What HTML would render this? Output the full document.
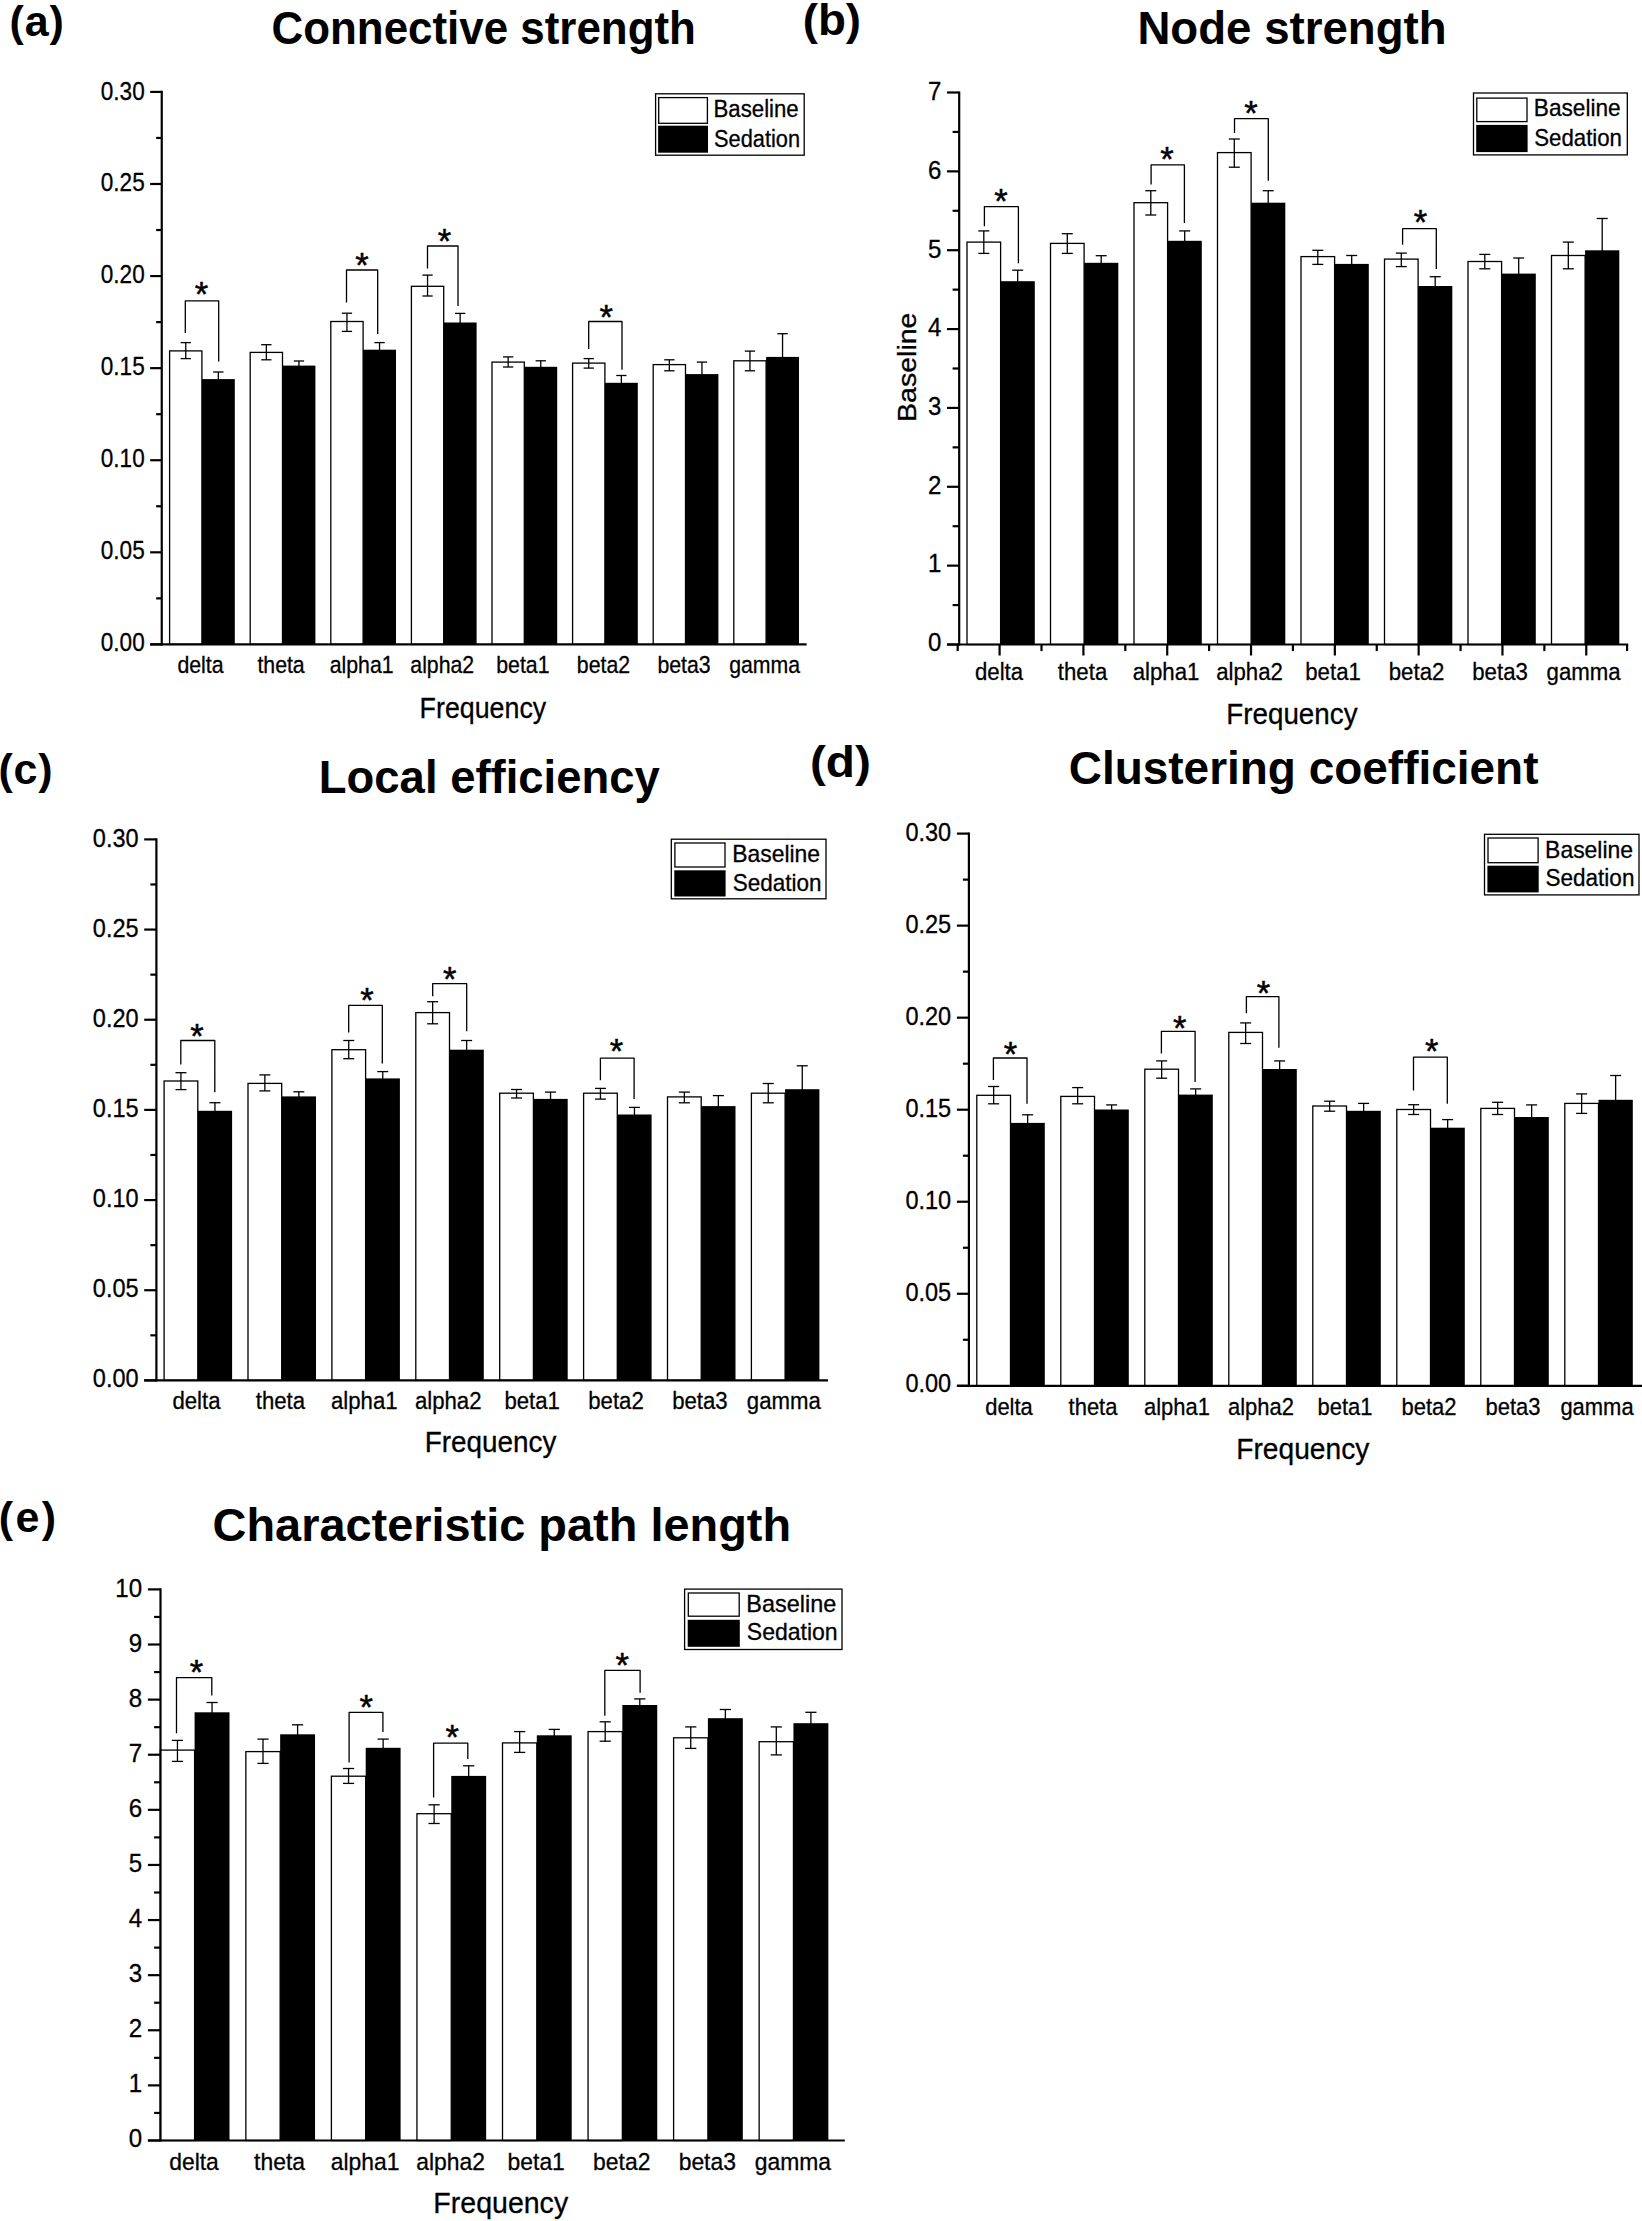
<!DOCTYPE html>
<html lang="en">
<head>
<meta charset="utf-8">
<title>Network measures: baseline vs sedation</title>
<style>
html,body{margin:0;padding:0;background:#fff;}
body{width:1642px;height:2221px;overflow:hidden;}
svg{display:block;}
svg text{font-family:"Liberation Sans", Arial, Helvetica, sans-serif;fill:#000;stroke:#000;stroke-width:0.3px;}
svg text.b{font-weight:bold;stroke:none;}
svg text.st{stroke:#000;stroke-width:0.5;stroke-linejoin:round;}
.ax{stroke:#000;stroke-width:2.2;stroke-linecap:butt;}
.wb{fill:#fff;stroke:#000;stroke-width:1.3;}
.bb{fill:#000;stroke:none;}
.e{stroke:#000;stroke-width:1.3;}
.br{fill:none;stroke:#000;stroke-width:1.3;stroke-linejoin:round;}
.lg{fill:#fff;stroke:#000;stroke-width:1.3;}
</style>
</head>
<body>
<svg width="1642" height="2221" viewBox="0 0 1642 2221">
<rect x="0" y="0" width="1642" height="2221" fill="#fff"/>
<g id="panel-a">
<text x="9.6" y="35.5" font-size="43" class="b" letter-spacing="0.8">(a)</text>
<text transform="translate(271.49 44.4) scale(0.9546 1)" font-size="46" class="b">Connective strength</text>
<rect class="wb" x="169.6" y="350.9" width="32.3" height="293.5"/>
<rect class="bb" x="201.9" y="379.1" width="32.9" height="265.3"/>
<line class="e" x1="185.75" y1="342.6" x2="185.75" y2="358.6"/>
<line class="e" x1="180.6" y1="342.6" x2="190.9" y2="342.6"/>
<line class="e" x1="180.6" y1="358.6" x2="190.9" y2="358.6"/>
<line class="e" x1="218.35" y1="372" x2="218.35" y2="380.1"/>
<line class="e" x1="213.2" y1="372" x2="223.5" y2="372"/>
<rect class="wb" x="250.2" y="352.4" width="32.3" height="292"/>
<rect class="bb" x="282.5" y="365.6" width="32.9" height="278.8"/>
<line class="e" x1="266.35" y1="344.7" x2="266.35" y2="359.8"/>
<line class="e" x1="261.2" y1="344.7" x2="271.5" y2="344.7"/>
<line class="e" x1="261.2" y1="359.8" x2="271.5" y2="359.8"/>
<line class="e" x1="298.95" y1="361" x2="298.95" y2="366.6"/>
<line class="e" x1="293.8" y1="361" x2="304.1" y2="361"/>
<rect class="wb" x="330.8" y="321.5" width="32.3" height="322.9"/>
<rect class="bb" x="363.1" y="349.7" width="32.9" height="294.7"/>
<line class="e" x1="346.95" y1="313.2" x2="346.95" y2="331.4"/>
<line class="e" x1="341.8" y1="313.2" x2="352.1" y2="313.2"/>
<line class="e" x1="341.8" y1="331.4" x2="352.1" y2="331.4"/>
<line class="e" x1="379.55" y1="342.6" x2="379.55" y2="350.7"/>
<line class="e" x1="374.4" y1="342.6" x2="384.7" y2="342.6"/>
<rect class="wb" x="411.4" y="286.3" width="32.3" height="358.1"/>
<rect class="bb" x="443.7" y="322.5" width="32.9" height="321.9"/>
<line class="e" x1="427.55" y1="275.1" x2="427.55" y2="296"/>
<line class="e" x1="422.4" y1="275.1" x2="432.7" y2="275.1"/>
<line class="e" x1="422.4" y1="296" x2="432.7" y2="296"/>
<line class="e" x1="460.15" y1="313.4" x2="460.15" y2="323.5"/>
<line class="e" x1="455" y1="313.4" x2="465.3" y2="313.4"/>
<rect class="wb" x="492" y="362.1" width="32.3" height="282.3"/>
<rect class="bb" x="524.3" y="366.8" width="32.9" height="277.6"/>
<line class="e" x1="508.15" y1="356.9" x2="508.15" y2="367"/>
<line class="e" x1="503" y1="356.9" x2="513.3" y2="356.9"/>
<line class="e" x1="503" y1="367" x2="513.3" y2="367"/>
<line class="e" x1="540.75" y1="360.8" x2="540.75" y2="367.8"/>
<line class="e" x1="535.6" y1="360.8" x2="545.9" y2="360.8"/>
<rect class="wb" x="572.6" y="363.1" width="32.3" height="281.3"/>
<rect class="bb" x="604.9" y="382.8" width="32.9" height="261.6"/>
<line class="e" x1="588.75" y1="358.6" x2="588.75" y2="368.1"/>
<line class="e" x1="583.6" y1="358.6" x2="593.9" y2="358.6"/>
<line class="e" x1="583.6" y1="368.1" x2="593.9" y2="368.1"/>
<line class="e" x1="621.35" y1="375.5" x2="621.35" y2="383.8"/>
<line class="e" x1="616.2" y1="375.5" x2="626.5" y2="375.5"/>
<rect class="wb" x="653.2" y="364.6" width="32.3" height="279.8"/>
<rect class="bb" x="685.5" y="374.1" width="32.9" height="270.3"/>
<line class="e" x1="669.35" y1="359.8" x2="669.35" y2="370.8"/>
<line class="e" x1="664.2" y1="359.8" x2="674.5" y2="359.8"/>
<line class="e" x1="664.2" y1="370.8" x2="674.5" y2="370.8"/>
<line class="e" x1="701.95" y1="362.1" x2="701.95" y2="375.1"/>
<line class="e" x1="696.8" y1="362.1" x2="707.1" y2="362.1"/>
<rect class="wb" x="733.8" y="360.8" width="32.3" height="283.6"/>
<rect class="bb" x="766.1" y="356.9" width="32.9" height="287.5"/>
<line class="e" x1="749.95" y1="351.1" x2="749.95" y2="370.8"/>
<line class="e" x1="744.8" y1="351.1" x2="755.1" y2="351.1"/>
<line class="e" x1="744.8" y1="370.8" x2="755.1" y2="370.8"/>
<line class="e" x1="782.55" y1="333.7" x2="782.55" y2="357.9"/>
<line class="e" x1="777.4" y1="333.7" x2="787.7" y2="333.7"/>
<polyline class="br" points="185.3,332.9 185.3,300.8 218.7,300.8 218.7,361.5"/>
<text x="201.5" y="306.2" font-size="34.5" text-anchor="middle" class="st">*</text>
<polyline class="br" points="346.5,302.4 346.5,270 377.7,270 377.7,334.1"/>
<text x="361.9" y="277.4" font-size="34.5" text-anchor="middle" class="st">*</text>
<polyline class="br" points="427.5,268.5 427.5,246 458,246 458,306"/>
<text x="444.5" y="253" font-size="34.5" text-anchor="middle" class="st">*</text>
<polyline class="br" points="588.7,349 588.7,321.5 622,321.5 622,369.8"/>
<text x="606.1" y="328.7" font-size="34.5" text-anchor="middle" class="st">*</text>
<line class="ax" x1="161.75" y1="90.8" x2="161.75" y2="645.5"/>
<line class="ax" x1="150.1" y1="644.4" x2="806.6" y2="644.4"/>
<line class="ax" x1="150.15" y1="644.4" x2="161.75" y2="644.4"/>
<text transform="translate(144.68 651.03) scale(0.892 1)" font-size="25.3" text-anchor="end">0.00</text>
<line class="ax" x1="156.15" y1="598.36" x2="161.75" y2="598.36"/>
<line class="ax" x1="150.15" y1="552.32" x2="161.75" y2="552.32"/>
<text transform="translate(144.68 559.11) scale(0.892 1)" font-size="25.3" text-anchor="end">0.05</text>
<line class="ax" x1="156.15" y1="506.27" x2="161.75" y2="506.27"/>
<line class="ax" x1="150.15" y1="460.23" x2="161.75" y2="460.23"/>
<text transform="translate(144.68 467.2) scale(0.892 1)" font-size="25.3" text-anchor="end">0.10</text>
<line class="ax" x1="156.15" y1="414.19" x2="161.75" y2="414.19"/>
<line class="ax" x1="150.15" y1="368.15" x2="161.75" y2="368.15"/>
<text transform="translate(144.68 375.28) scale(0.892 1)" font-size="25.3" text-anchor="end">0.15</text>
<line class="ax" x1="156.15" y1="322.11" x2="161.75" y2="322.11"/>
<line class="ax" x1="150.15" y1="276.07" x2="161.75" y2="276.07"/>
<text transform="translate(144.68 283.36) scale(0.892 1)" font-size="25.3" text-anchor="end">0.20</text>
<line class="ax" x1="156.15" y1="230.03" x2="161.75" y2="230.03"/>
<line class="ax" x1="150.15" y1="183.98" x2="161.75" y2="183.98"/>
<text transform="translate(144.68 191.45) scale(0.892 1)" font-size="25.3" text-anchor="end">0.25</text>
<line class="ax" x1="156.15" y1="137.94" x2="161.75" y2="137.94"/>
<line class="ax" x1="150.15" y1="91.9" x2="161.75" y2="91.9"/>
<text transform="translate(144.68 99.53) scale(0.892 1)" font-size="25.3" text-anchor="end">0.30</text>
<text transform="translate(200.45 673.4) scale(0.906 1)" font-size="23.5" text-anchor="middle">delta</text>
<text transform="translate(281.05 673.4) scale(0.906 1)" font-size="23.5" text-anchor="middle">theta</text>
<text transform="translate(361.65 673.4) scale(0.906 1)" font-size="23.5" text-anchor="middle">alpha1</text>
<text transform="translate(442.25 673.4) scale(0.906 1)" font-size="23.5" text-anchor="middle">alpha2</text>
<text transform="translate(522.85 673.4) scale(0.906 1)" font-size="23.5" text-anchor="middle">beta1</text>
<text transform="translate(603.45 673.4) scale(0.906 1)" font-size="23.5" text-anchor="middle">beta2</text>
<text transform="translate(684.05 673.4) scale(0.906 1)" font-size="23.5" text-anchor="middle">beta3</text>
<text transform="translate(764.65 673.4) scale(0.906 1)" font-size="23.5" text-anchor="middle">gamma</text>
<text transform="translate(419.61 717.9) scale(0.8967 1)" font-size="29.9">Frequency</text>
<rect class="lg" x="655.6" y="93.8" width="148.6" height="61.4"/>
<rect class="lg" x="658.7" y="97.6" width="48.7" height="25.7"/>
<rect class="bb" x="658.1" y="125.7" width="49.9" height="27"/>
<text transform="translate(713.57 117.4) scale(0.9492 1)" font-size="23.4">Baseline</text>
<text transform="translate(713.97 146.8) scale(0.9321 1)" font-size="23.4">Sedation</text>
</g>
<g id="panel-b">
<text transform="translate(802.77 34.5) scale(1.0381 1)" font-size="44" class="b">(b)</text>
<text transform="translate(1137.38 44.1) scale(0.9922 1)" font-size="46" class="b">Node strength</text>
<rect class="wb" x="967" y="242.1" width="33.6" height="402.4"/>
<rect class="bb" x="1000.6" y="281.2" width="34.2" height="363.3"/>
<line class="e" x1="983.8" y1="230.9" x2="983.8" y2="253.4"/>
<line class="e" x1="978.3" y1="230.9" x2="989.3" y2="230.9"/>
<line class="e" x1="978.3" y1="253.4" x2="989.3" y2="253.4"/>
<line class="e" x1="1017.7" y1="270.2" x2="1017.7" y2="282.2"/>
<line class="e" x1="1012.2" y1="270.2" x2="1023.2" y2="270.2"/>
<rect class="wb" x="1050.5" y="243.4" width="33.6" height="401.1"/>
<rect class="bb" x="1084.1" y="262.8" width="34.2" height="381.7"/>
<line class="e" x1="1067.3" y1="233.7" x2="1067.3" y2="253.4"/>
<line class="e" x1="1061.8" y1="233.7" x2="1072.8" y2="233.7"/>
<line class="e" x1="1061.8" y1="253.4" x2="1072.8" y2="253.4"/>
<line class="e" x1="1101.2" y1="255.7" x2="1101.2" y2="263.8"/>
<line class="e" x1="1095.7" y1="255.7" x2="1106.7" y2="255.7"/>
<rect class="wb" x="1134" y="202.7" width="33.6" height="441.8"/>
<rect class="bb" x="1167.6" y="240.8" width="34.2" height="403.7"/>
<line class="e" x1="1150.8" y1="190.7" x2="1150.8" y2="215"/>
<line class="e" x1="1145.3" y1="190.7" x2="1156.3" y2="190.7"/>
<line class="e" x1="1145.3" y1="215" x2="1156.3" y2="215"/>
<line class="e" x1="1184.7" y1="230.9" x2="1184.7" y2="241.8"/>
<line class="e" x1="1179.2" y1="230.9" x2="1190.2" y2="230.9"/>
<rect class="wb" x="1217.5" y="152.6" width="33.6" height="491.9"/>
<rect class="bb" x="1251.1" y="202.7" width="34.2" height="441.8"/>
<line class="e" x1="1234.3" y1="139" x2="1234.3" y2="167.2"/>
<line class="e" x1="1228.8" y1="139" x2="1239.8" y2="139"/>
<line class="e" x1="1228.8" y1="167.2" x2="1239.8" y2="167.2"/>
<line class="e" x1="1268.2" y1="190.7" x2="1268.2" y2="203.7"/>
<line class="e" x1="1262.7" y1="190.7" x2="1273.7" y2="190.7"/>
<rect class="wb" x="1301" y="256.6" width="33.6" height="387.9"/>
<rect class="bb" x="1334.6" y="263.9" width="34.2" height="380.6"/>
<line class="e" x1="1317.8" y1="250.3" x2="1317.8" y2="264.4"/>
<line class="e" x1="1312.3" y1="250.3" x2="1323.3" y2="250.3"/>
<line class="e" x1="1312.3" y1="264.4" x2="1323.3" y2="264.4"/>
<line class="e" x1="1351.7" y1="255.5" x2="1351.7" y2="264.9"/>
<line class="e" x1="1346.2" y1="255.5" x2="1357.2" y2="255.5"/>
<rect class="wb" x="1384.5" y="259.1" width="33.6" height="385.4"/>
<rect class="bb" x="1418.1" y="286" width="34.2" height="358.5"/>
<line class="e" x1="1401.3" y1="253.1" x2="1401.3" y2="266.6"/>
<line class="e" x1="1395.8" y1="253.1" x2="1406.8" y2="253.1"/>
<line class="e" x1="1395.8" y1="266.6" x2="1406.8" y2="266.6"/>
<line class="e" x1="1435.2" y1="276.7" x2="1435.2" y2="287"/>
<line class="e" x1="1429.7" y1="276.7" x2="1440.7" y2="276.7"/>
<rect class="wb" x="1468" y="261.5" width="33.6" height="383"/>
<rect class="bb" x="1501.6" y="273.6" width="34.2" height="370.9"/>
<line class="e" x1="1484.8" y1="254.4" x2="1484.8" y2="268.8"/>
<line class="e" x1="1479.3" y1="254.4" x2="1490.3" y2="254.4"/>
<line class="e" x1="1479.3" y1="268.8" x2="1490.3" y2="268.8"/>
<line class="e" x1="1518.7" y1="258" x2="1518.7" y2="274.6"/>
<line class="e" x1="1513.2" y1="258" x2="1524.2" y2="258"/>
<rect class="wb" x="1551.5" y="255.5" width="33.6" height="389"/>
<rect class="bb" x="1585.1" y="250.3" width="34.2" height="394.2"/>
<line class="e" x1="1568.3" y1="242.1" x2="1568.3" y2="268.8"/>
<line class="e" x1="1562.8" y1="242.1" x2="1573.8" y2="242.1"/>
<line class="e" x1="1562.8" y1="268.8" x2="1573.8" y2="268.8"/>
<line class="e" x1="1602.2" y1="218.5" x2="1602.2" y2="251.3"/>
<line class="e" x1="1596.7" y1="218.5" x2="1607.7" y2="218.5"/>
<polyline class="br" points="984.4,226.3 984.4,206.6 1018.4,206.6 1018.4,263.3"/>
<text x="1001" y="212.8" font-size="34.5" text-anchor="middle" class="st">*</text>
<polyline class="br" points="1151.1,184.6 1151.1,164.9 1184.4,164.9 1184.4,222.9"/>
<text x="1167" y="171.1" font-size="34.5" text-anchor="middle" class="st">*</text>
<polyline class="br" points="1234.5,132.9 1234.5,118.6 1268.3,118.6 1268.3,180.7"/>
<text x="1250.9" y="125.1" font-size="34.5" text-anchor="middle" class="st">*</text>
<polyline class="br" points="1402.6,244.7 1402.6,228.7 1436.3,228.7 1436.3,269"/>
<text x="1420.4" y="233.5" font-size="34.5" text-anchor="middle" class="st">*</text>
<line class="ax" x1="959.2" y1="91.4" x2="959.2" y2="645.6"/>
<line class="ax" x1="947" y1="644.5" x2="1628.2" y2="644.5"/>
<line class="ax" x1="947" y1="644.5" x2="959.2" y2="644.5"/>
<text transform="translate(941.34 651.13) scale(0.95 1)" font-size="25.3" text-anchor="end">0</text>
<line class="ax" x1="952.6" y1="605.07" x2="959.2" y2="605.07"/>
<line class="ax" x1="947" y1="565.64" x2="959.2" y2="565.64"/>
<text transform="translate(941.34 572.41) scale(0.95 1)" font-size="25.3" text-anchor="end">1</text>
<line class="ax" x1="952.6" y1="526.21" x2="959.2" y2="526.21"/>
<line class="ax" x1="947" y1="486.79" x2="959.2" y2="486.79"/>
<text transform="translate(941.34 493.7) scale(0.95 1)" font-size="25.3" text-anchor="end">2</text>
<line class="ax" x1="952.6" y1="447.36" x2="959.2" y2="447.36"/>
<line class="ax" x1="947" y1="407.93" x2="959.2" y2="407.93"/>
<text transform="translate(941.34 414.99) scale(0.95 1)" font-size="25.3" text-anchor="end">3</text>
<line class="ax" x1="952.6" y1="368.5" x2="959.2" y2="368.5"/>
<line class="ax" x1="947" y1="329.07" x2="959.2" y2="329.07"/>
<text transform="translate(941.34 336.27) scale(0.95 1)" font-size="25.3" text-anchor="end">4</text>
<line class="ax" x1="952.6" y1="289.64" x2="959.2" y2="289.64"/>
<line class="ax" x1="947" y1="250.21" x2="959.2" y2="250.21"/>
<text transform="translate(941.34 257.56) scale(0.95 1)" font-size="25.3" text-anchor="end">5</text>
<line class="ax" x1="952.6" y1="210.79" x2="959.2" y2="210.79"/>
<line class="ax" x1="947" y1="171.36" x2="959.2" y2="171.36"/>
<text transform="translate(941.34 178.84) scale(0.95 1)" font-size="25.3" text-anchor="end">6</text>
<line class="ax" x1="952.6" y1="131.93" x2="959.2" y2="131.93"/>
<line class="ax" x1="947" y1="92.5" x2="959.2" y2="92.5"/>
<text transform="translate(941.34 100.13) scale(0.95 1)" font-size="25.3" text-anchor="end">7</text>
<line class="ax" x1="999.6" y1="644.5" x2="999.6" y2="655.5"/>
<line class="ax" x1="1083.41" y1="644.5" x2="1083.41" y2="655.5"/>
<line class="ax" x1="1167.22" y1="644.5" x2="1167.22" y2="655.5"/>
<line class="ax" x1="1251.03" y1="644.5" x2="1251.03" y2="655.5"/>
<line class="ax" x1="1334.84" y1="644.5" x2="1334.84" y2="655.5"/>
<line class="ax" x1="1418.65" y1="644.5" x2="1418.65" y2="655.5"/>
<line class="ax" x1="1502.46" y1="644.5" x2="1502.46" y2="655.5"/>
<line class="ax" x1="1586.27" y1="644.5" x2="1586.27" y2="655.5"/>
<line class="ax" x1="957.7" y1="644.5" x2="957.7" y2="651.1"/>
<line class="ax" x1="1041.51" y1="644.5" x2="1041.51" y2="651.1"/>
<line class="ax" x1="1125.32" y1="644.5" x2="1125.32" y2="651.1"/>
<line class="ax" x1="1209.12" y1="644.5" x2="1209.12" y2="651.1"/>
<line class="ax" x1="1292.93" y1="644.5" x2="1292.93" y2="651.1"/>
<line class="ax" x1="1376.75" y1="644.5" x2="1376.75" y2="651.1"/>
<line class="ax" x1="1460.56" y1="644.5" x2="1460.56" y2="651.1"/>
<line class="ax" x1="1544.37" y1="644.5" x2="1544.37" y2="651.1"/>
<line class="ax" x1="1627.1" y1="644.5" x2="1627.1" y2="651.1"/>
<text transform="translate(999.05 679.5) scale(0.945 1)" font-size="23.5" text-anchor="middle">delta</text>
<text transform="translate(1082.55 679.5) scale(0.945 1)" font-size="23.5" text-anchor="middle">theta</text>
<text transform="translate(1166.05 679.5) scale(0.945 1)" font-size="23.5" text-anchor="middle">alpha1</text>
<text transform="translate(1249.55 679.5) scale(0.945 1)" font-size="23.5" text-anchor="middle">alpha2</text>
<text transform="translate(1333.05 679.5) scale(0.945 1)" font-size="23.5" text-anchor="middle">beta1</text>
<text transform="translate(1416.55 679.5) scale(0.945 1)" font-size="23.5" text-anchor="middle">beta2</text>
<text transform="translate(1500.05 679.5) scale(0.945 1)" font-size="23.5" text-anchor="middle">beta3</text>
<text transform="translate(1583.55 679.5) scale(0.945 1)" font-size="23.5" text-anchor="middle">gamma</text>
<text transform="translate(1226.33 724.1) scale(0.9291 1)" font-size="29.9">Frequency</text>
<text transform="translate(915.9 422) rotate(-90) scale(1.09 1)" font-size="26.2">Baseline</text>
<rect class="lg" x="1473.5" y="93" width="153.8" height="61.9"/>
<rect class="lg" x="1476.8" y="98.1" width="50.2" height="23.5"/>
<rect class="bb" x="1476.2" y="124.9" width="51.4" height="27.2"/>
<text transform="translate(1533.84 116.3) scale(0.9676 1)" font-size="23.4">Baseline</text>
<text transform="translate(1534.25 146.1) scale(0.9502 1)" font-size="23.4">Sedation</text>
</g>
<g id="panel-c">
<text x="-1.45" y="784.2" font-size="43" class="b" letter-spacing="0.7">(c)</text>
<text transform="translate(318.79 792.5) scale(0.9886 1)" font-size="46" class="b">Local efficiency</text>
<rect class="wb" x="164.1" y="1081" width="33.7" height="299.4"/>
<rect class="bb" x="197.8" y="1110.8" width="34.3" height="269.6"/>
<line class="e" x1="180.95" y1="1072.7" x2="180.95" y2="1089.6"/>
<line class="e" x1="175.45" y1="1072.7" x2="186.45" y2="1072.7"/>
<line class="e" x1="175.45" y1="1089.6" x2="186.45" y2="1089.6"/>
<line class="e" x1="214.95" y1="1102.7" x2="214.95" y2="1111.8"/>
<line class="e" x1="209.45" y1="1102.7" x2="220.45" y2="1102.7"/>
<rect class="wb" x="248" y="1083.4" width="33.7" height="297"/>
<rect class="bb" x="281.7" y="1096.4" width="34.3" height="284"/>
<line class="e" x1="264.85" y1="1074.9" x2="264.85" y2="1090.9"/>
<line class="e" x1="259.35" y1="1074.9" x2="270.35" y2="1074.9"/>
<line class="e" x1="259.35" y1="1090.9" x2="270.35" y2="1090.9"/>
<line class="e" x1="298.85" y1="1091.8" x2="298.85" y2="1097.4"/>
<line class="e" x1="293.35" y1="1091.8" x2="304.35" y2="1091.8"/>
<rect class="wb" x="331.9" y="1049.7" width="33.7" height="330.7"/>
<rect class="bb" x="365.6" y="1078.4" width="34.3" height="302"/>
<line class="e" x1="348.75" y1="1040.5" x2="348.75" y2="1058.7"/>
<line class="e" x1="343.25" y1="1040.5" x2="354.25" y2="1040.5"/>
<line class="e" x1="343.25" y1="1058.7" x2="354.25" y2="1058.7"/>
<line class="e" x1="382.75" y1="1071.6" x2="382.75" y2="1079.4"/>
<line class="e" x1="377.25" y1="1071.6" x2="388.25" y2="1071.6"/>
<rect class="wb" x="415.8" y="1012.6" width="33.7" height="367.8"/>
<rect class="bb" x="449.5" y="1049.7" width="34.3" height="330.7"/>
<line class="e" x1="432.65" y1="1001.7" x2="432.65" y2="1023.8"/>
<line class="e" x1="427.15" y1="1001.7" x2="438.15" y2="1001.7"/>
<line class="e" x1="427.15" y1="1023.8" x2="438.15" y2="1023.8"/>
<line class="e" x1="466.65" y1="1040.5" x2="466.65" y2="1050.7"/>
<line class="e" x1="461.15" y1="1040.5" x2="472.15" y2="1040.5"/>
<rect class="wb" x="499.7" y="1093.2" width="33.7" height="287.2"/>
<rect class="bb" x="533.4" y="1098.9" width="34.3" height="281.5"/>
<line class="e" x1="516.55" y1="1089.5" x2="516.55" y2="1098"/>
<line class="e" x1="511.05" y1="1089.5" x2="522.05" y2="1089.5"/>
<line class="e" x1="511.05" y1="1098" x2="522.05" y2="1098"/>
<line class="e" x1="550.55" y1="1092.1" x2="550.55" y2="1099.9"/>
<line class="e" x1="545.05" y1="1092.1" x2="556.05" y2="1092.1"/>
<rect class="wb" x="583.6" y="1093.2" width="33.7" height="287.2"/>
<rect class="bb" x="617.3" y="1114.5" width="34.3" height="265.9"/>
<line class="e" x1="600.45" y1="1088.4" x2="600.45" y2="1099.1"/>
<line class="e" x1="594.95" y1="1088.4" x2="605.95" y2="1088.4"/>
<line class="e" x1="594.95" y1="1099.1" x2="605.95" y2="1099.1"/>
<line class="e" x1="634.45" y1="1107.4" x2="634.45" y2="1115.5"/>
<line class="e" x1="628.95" y1="1107.4" x2="639.95" y2="1107.4"/>
<rect class="wb" x="667.5" y="1096.9" width="33.7" height="283.5"/>
<rect class="bb" x="701.2" y="1106.1" width="34.3" height="274.3"/>
<line class="e" x1="684.35" y1="1092.1" x2="684.35" y2="1102.8"/>
<line class="e" x1="678.85" y1="1092.1" x2="689.85" y2="1092.1"/>
<line class="e" x1="678.85" y1="1102.8" x2="689.85" y2="1102.8"/>
<line class="e" x1="718.35" y1="1095.6" x2="718.35" y2="1107.1"/>
<line class="e" x1="712.85" y1="1095.6" x2="723.85" y2="1095.6"/>
<rect class="wb" x="751.4" y="1093.2" width="33.7" height="287.2"/>
<rect class="bb" x="785.1" y="1089.2" width="34.3" height="291.2"/>
<line class="e" x1="768.25" y1="1083.5" x2="768.25" y2="1102.8"/>
<line class="e" x1="762.75" y1="1083.5" x2="773.75" y2="1083.5"/>
<line class="e" x1="762.75" y1="1102.8" x2="773.75" y2="1102.8"/>
<line class="e" x1="802.25" y1="1065.8" x2="802.25" y2="1090.2"/>
<line class="e" x1="796.75" y1="1065.8" x2="807.75" y2="1065.8"/>
<polyline class="br" points="180.8,1064.6 180.8,1040.5 214.8,1040.5 214.8,1092.2"/>
<text x="197" y="1047.8" font-size="34.5" text-anchor="middle" class="st">*</text>
<polyline class="br" points="348.7,1032.4 348.7,1005.4 382.3,1005.4 382.3,1063.5"/>
<text x="366.9" y="1011.6" font-size="34.5" text-anchor="middle" class="st">*</text>
<polyline class="br" points="432.7,996.2 432.7,983.7 466.7,983.7 466.7,1031.3"/>
<text x="449.6" y="991.4" font-size="34.5" text-anchor="middle" class="st">*</text>
<polyline class="br" points="600.4,1080.3 600.4,1058.1 634.1,1058.1 634.1,1099.1"/>
<text x="616.4" y="1063.4" font-size="34.5" text-anchor="middle" class="st">*</text>
<line class="ax" x1="156.4" y1="838.3" x2="156.4" y2="1381.5"/>
<line class="ax" x1="144.2" y1="1380.4" x2="828" y2="1380.4"/>
<line class="ax" x1="144.2" y1="1380.4" x2="156.4" y2="1380.4"/>
<text transform="translate(138.62 1387.03) scale(0.93 1)" font-size="25.3" text-anchor="end">0.00</text>
<line class="ax" x1="150.4" y1="1335.32" x2="156.4" y2="1335.32"/>
<line class="ax" x1="144.2" y1="1290.23" x2="156.4" y2="1290.23"/>
<text transform="translate(138.62 1297.03) scale(0.93 1)" font-size="25.3" text-anchor="end">0.05</text>
<line class="ax" x1="150.4" y1="1245.15" x2="156.4" y2="1245.15"/>
<line class="ax" x1="144.2" y1="1200.07" x2="156.4" y2="1200.07"/>
<text transform="translate(138.62 1207.03) scale(0.93 1)" font-size="25.3" text-anchor="end">0.10</text>
<line class="ax" x1="150.4" y1="1154.98" x2="156.4" y2="1154.98"/>
<line class="ax" x1="144.2" y1="1109.9" x2="156.4" y2="1109.9"/>
<text transform="translate(138.62 1117.03) scale(0.93 1)" font-size="25.3" text-anchor="end">0.15</text>
<line class="ax" x1="150.4" y1="1064.82" x2="156.4" y2="1064.82"/>
<line class="ax" x1="144.2" y1="1019.73" x2="156.4" y2="1019.73"/>
<text transform="translate(138.62 1027.03) scale(0.93 1)" font-size="25.3" text-anchor="end">0.20</text>
<line class="ax" x1="150.4" y1="974.65" x2="156.4" y2="974.65"/>
<line class="ax" x1="144.2" y1="929.57" x2="156.4" y2="929.57"/>
<text transform="translate(138.62 937.03) scale(0.93 1)" font-size="25.3" text-anchor="end">0.25</text>
<line class="ax" x1="150.4" y1="884.48" x2="156.4" y2="884.48"/>
<line class="ax" x1="144.2" y1="839.4" x2="156.4" y2="839.4"/>
<text transform="translate(138.62 847.03) scale(0.93 1)" font-size="25.3" text-anchor="end">0.30</text>
<text transform="translate(196.5 1408.5) scale(0.943 1)" font-size="23.5" text-anchor="middle">delta</text>
<text transform="translate(280.4 1408.5) scale(0.943 1)" font-size="23.5" text-anchor="middle">theta</text>
<text transform="translate(364.3 1408.5) scale(0.943 1)" font-size="23.5" text-anchor="middle">alpha1</text>
<text transform="translate(448.2 1408.5) scale(0.943 1)" font-size="23.5" text-anchor="middle">alpha2</text>
<text transform="translate(532.1 1408.5) scale(0.943 1)" font-size="23.5" text-anchor="middle">beta1</text>
<text transform="translate(616 1408.5) scale(0.943 1)" font-size="23.5" text-anchor="middle">beta2</text>
<text transform="translate(699.9 1408.5) scale(0.943 1)" font-size="23.5" text-anchor="middle">beta3</text>
<text transform="translate(783.8 1408.5) scale(0.943 1)" font-size="23.5" text-anchor="middle">gamma</text>
<text transform="translate(424.72 1452.2) scale(0.9327 1)" font-size="29.9">Frequency</text>
<rect class="lg" x="671.3" y="839.2" width="154.7" height="59.6"/>
<rect class="lg" x="674.9" y="843" width="50.1" height="24"/>
<rect class="bb" x="674.3" y="870.3" width="51.3" height="26.2"/>
<text transform="translate(732.22 862.4) scale(0.9791 1)" font-size="23.4">Baseline</text>
<text transform="translate(732.64 890.8) scale(0.9615 1)" font-size="23.4">Sedation</text>
</g>
<g id="panel-d">
<text transform="translate(809.96 777.3) scale(1.0863 1)" font-size="44" class="b">(d)</text>
<text transform="translate(1068.71 783.8) scale(0.9991 1)" font-size="46" class="b">Clustering coefficient</text>
<rect class="wb" x="976.8" y="1095.3" width="33.7" height="290.5"/>
<rect class="bb" x="1010.5" y="1122.9" width="34.3" height="262.9"/>
<line class="e" x1="993.65" y1="1086.5" x2="993.65" y2="1103.8"/>
<line class="e" x1="988.15" y1="1086.5" x2="999.15" y2="1086.5"/>
<line class="e" x1="988.15" y1="1103.8" x2="999.15" y2="1103.8"/>
<line class="e" x1="1027.65" y1="1114.8" x2="1027.65" y2="1123.9"/>
<line class="e" x1="1022.15" y1="1114.8" x2="1033.15" y2="1114.8"/>
<rect class="wb" x="1060.8" y="1096.4" width="33.7" height="289.4"/>
<rect class="bb" x="1094.5" y="1109.5" width="34.3" height="276.3"/>
<line class="e" x1="1077.65" y1="1087.6" x2="1077.65" y2="1103.8"/>
<line class="e" x1="1072.15" y1="1087.6" x2="1083.15" y2="1087.6"/>
<line class="e" x1="1072.15" y1="1103.8" x2="1083.15" y2="1103.8"/>
<line class="e" x1="1111.65" y1="1104.9" x2="1111.65" y2="1110.5"/>
<line class="e" x1="1106.15" y1="1104.9" x2="1117.15" y2="1104.9"/>
<rect class="wb" x="1144.8" y="1069.2" width="33.7" height="316.6"/>
<rect class="bb" x="1178.5" y="1094.6" width="34.3" height="291.2"/>
<line class="e" x1="1161.65" y1="1060.9" x2="1161.65" y2="1078.2"/>
<line class="e" x1="1156.15" y1="1060.9" x2="1167.15" y2="1060.9"/>
<line class="e" x1="1156.15" y1="1078.2" x2="1167.15" y2="1078.2"/>
<line class="e" x1="1195.65" y1="1088.9" x2="1195.65" y2="1095.6"/>
<line class="e" x1="1190.15" y1="1088.9" x2="1201.15" y2="1088.9"/>
<rect class="wb" x="1228.8" y="1032.4" width="33.7" height="353.4"/>
<rect class="bb" x="1262.5" y="1069" width="34.3" height="316.8"/>
<line class="e" x1="1245.65" y1="1022.9" x2="1245.65" y2="1043.5"/>
<line class="e" x1="1240.15" y1="1022.9" x2="1251.15" y2="1022.9"/>
<line class="e" x1="1240.15" y1="1043.5" x2="1251.15" y2="1043.5"/>
<line class="e" x1="1279.65" y1="1060.9" x2="1279.65" y2="1070"/>
<line class="e" x1="1274.15" y1="1060.9" x2="1285.15" y2="1060.9"/>
<rect class="wb" x="1312.8" y="1106" width="33.7" height="279.8"/>
<rect class="bb" x="1346.5" y="1110.8" width="34.3" height="275"/>
<line class="e" x1="1329.65" y1="1101.2" x2="1329.65" y2="1111.2"/>
<line class="e" x1="1324.15" y1="1101.2" x2="1335.15" y2="1101.2"/>
<line class="e" x1="1324.15" y1="1111.2" x2="1335.15" y2="1111.2"/>
<line class="e" x1="1363.65" y1="1103.4" x2="1363.65" y2="1111.8"/>
<line class="e" x1="1358.15" y1="1103.4" x2="1369.15" y2="1103.4"/>
<rect class="wb" x="1396.8" y="1109.5" width="33.7" height="276.3"/>
<rect class="bb" x="1430.5" y="1127.7" width="34.3" height="258.1"/>
<line class="e" x1="1413.65" y1="1104.7" x2="1413.65" y2="1114.5"/>
<line class="e" x1="1408.15" y1="1104.7" x2="1419.15" y2="1104.7"/>
<line class="e" x1="1408.15" y1="1114.5" x2="1419.15" y2="1114.5"/>
<line class="e" x1="1447.65" y1="1119.6" x2="1447.65" y2="1128.7"/>
<line class="e" x1="1442.15" y1="1119.6" x2="1453.15" y2="1119.6"/>
<rect class="wb" x="1480.8" y="1108.4" width="33.7" height="277.4"/>
<rect class="bb" x="1514.5" y="1117" width="34.3" height="268.8"/>
<line class="e" x1="1497.65" y1="1102.3" x2="1497.65" y2="1114.5"/>
<line class="e" x1="1492.15" y1="1102.3" x2="1503.15" y2="1102.3"/>
<line class="e" x1="1492.15" y1="1114.5" x2="1503.15" y2="1114.5"/>
<line class="e" x1="1531.65" y1="1104.9" x2="1531.65" y2="1118"/>
<line class="e" x1="1526.15" y1="1104.9" x2="1537.15" y2="1104.9"/>
<rect class="wb" x="1564.8" y="1103.4" width="33.7" height="282.4"/>
<rect class="bb" x="1598.5" y="1099.8" width="34.3" height="286"/>
<line class="e" x1="1581.65" y1="1093.9" x2="1581.65" y2="1113.4"/>
<line class="e" x1="1576.15" y1="1093.9" x2="1587.15" y2="1093.9"/>
<line class="e" x1="1576.15" y1="1113.4" x2="1587.15" y2="1113.4"/>
<line class="e" x1="1615.65" y1="1075.5" x2="1615.65" y2="1100.8"/>
<line class="e" x1="1610.15" y1="1075.5" x2="1621.15" y2="1075.5"/>
<polyline class="br" points="993.4,1080.1 993.4,1058 1027,1058 1027,1103.8"/>
<text x="1010.5" y="1066.4" font-size="34.5" text-anchor="middle" class="st">*</text>
<polyline class="br" points="1161.4,1053.6 1161.4,1031.3 1195.1,1031.3 1195.1,1081.9"/>
<text x="1179.6" y="1040.1" font-size="34.5" text-anchor="middle" class="st">*</text>
<polyline class="br" points="1246.4,1013.3 1246.4,996.6 1278.9,996.6 1278.9,1047.7"/>
<text x="1263.5" y="1005" font-size="34.5" text-anchor="middle" class="st">*</text>
<polyline class="br" points="1413.5,1090.6 1413.5,1057.1 1447.3,1057.1 1447.3,1103.8"/>
<text x="1431.7" y="1062.9" font-size="34.5" text-anchor="middle" class="st">*</text>
<line class="ax" x1="968.9" y1="832.5" x2="968.9" y2="1386.9"/>
<line class="ax" x1="956.9" y1="1385.8" x2="1642" y2="1385.8"/>
<line class="ax" x1="956.9" y1="1385.8" x2="968.9" y2="1385.8"/>
<text transform="translate(951.22 1392.43) scale(0.93 1)" font-size="25.3" text-anchor="end">0.00</text>
<line class="ax" x1="962.9" y1="1339.78" x2="968.9" y2="1339.78"/>
<line class="ax" x1="956.9" y1="1293.77" x2="968.9" y2="1293.77"/>
<text transform="translate(951.22 1300.56) scale(0.93 1)" font-size="25.3" text-anchor="end">0.05</text>
<line class="ax" x1="962.9" y1="1247.75" x2="968.9" y2="1247.75"/>
<line class="ax" x1="956.9" y1="1201.73" x2="968.9" y2="1201.73"/>
<text transform="translate(951.22 1208.7) scale(0.93 1)" font-size="25.3" text-anchor="end">0.10</text>
<line class="ax" x1="962.9" y1="1155.72" x2="968.9" y2="1155.72"/>
<line class="ax" x1="956.9" y1="1109.7" x2="968.9" y2="1109.7"/>
<text transform="translate(951.22 1116.83) scale(0.93 1)" font-size="25.3" text-anchor="end">0.15</text>
<line class="ax" x1="962.9" y1="1063.68" x2="968.9" y2="1063.68"/>
<line class="ax" x1="956.9" y1="1017.67" x2="968.9" y2="1017.67"/>
<text transform="translate(951.22 1024.96) scale(0.93 1)" font-size="25.3" text-anchor="end">0.20</text>
<line class="ax" x1="962.9" y1="971.65" x2="968.9" y2="971.65"/>
<line class="ax" x1="956.9" y1="925.63" x2="968.9" y2="925.63"/>
<text transform="translate(951.22 933.1) scale(0.93 1)" font-size="25.3" text-anchor="end">0.25</text>
<line class="ax" x1="962.9" y1="879.62" x2="968.9" y2="879.62"/>
<line class="ax" x1="956.9" y1="833.6" x2="968.9" y2="833.6"/>
<text transform="translate(951.22 841.23) scale(0.93 1)" font-size="25.3" text-anchor="end">0.30</text>
<text transform="translate(1009 1415.2) scale(0.935 1)" font-size="23.5" text-anchor="middle">delta</text>
<text transform="translate(1093 1415.2) scale(0.935 1)" font-size="23.5" text-anchor="middle">theta</text>
<text transform="translate(1177 1415.2) scale(0.935 1)" font-size="23.5" text-anchor="middle">alpha1</text>
<text transform="translate(1261 1415.2) scale(0.935 1)" font-size="23.5" text-anchor="middle">alpha2</text>
<text transform="translate(1345 1415.2) scale(0.935 1)" font-size="23.5" text-anchor="middle">beta1</text>
<text transform="translate(1429 1415.2) scale(0.935 1)" font-size="23.5" text-anchor="middle">beta2</text>
<text transform="translate(1513 1415.2) scale(0.935 1)" font-size="23.5" text-anchor="middle">beta3</text>
<text transform="translate(1597 1415.2) scale(0.935 1)" font-size="23.5" text-anchor="middle">gamma</text>
<text transform="translate(1236.3 1459.3) scale(0.9421 1)" font-size="29.9">Frequency</text>
<rect class="lg" x="1484.5" y="834.3" width="154.5" height="60.6"/>
<rect class="lg" x="1488" y="838" width="50.1" height="24.7"/>
<rect class="bb" x="1487.4" y="865.7" width="51.3" height="26.7"/>
<text transform="translate(1545.11 858.1) scale(0.9803 1)" font-size="23.4">Baseline</text>
<text transform="translate(1545.54 885.9) scale(0.9626 1)" font-size="23.4">Sedation</text>
</g>
<g id="panel-e">
<text x="-1.25" y="1531.8" font-size="43" class="b" letter-spacing="2.4">(e)</text>
<text transform="translate(212.57 1541) scale(1.0199 1)" font-size="46" class="b">Characteristic path length</text>
<rect class="wb" x="160.3" y="1750.1" width="34.3" height="390.4"/>
<rect class="bb" x="194.6" y="1712.3" width="34.9" height="428.2"/>
<line class="e" x1="177.45" y1="1740.4" x2="177.45" y2="1761.4"/>
<line class="e" x1="171.85" y1="1740.4" x2="183.05" y2="1740.4"/>
<line class="e" x1="171.85" y1="1761.4" x2="183.05" y2="1761.4"/>
<line class="e" x1="212.05" y1="1702.5" x2="212.05" y2="1713.3"/>
<line class="e" x1="206.45" y1="1702.5" x2="217.65" y2="1702.5"/>
<rect class="wb" x="245.85" y="1751.6" width="34.3" height="388.9"/>
<rect class="bb" x="280.15" y="1734.3" width="34.9" height="406.2"/>
<line class="e" x1="263" y1="1739.1" x2="263" y2="1763.4"/>
<line class="e" x1="257.4" y1="1739.1" x2="268.6" y2="1739.1"/>
<line class="e" x1="257.4" y1="1763.4" x2="268.6" y2="1763.4"/>
<line class="e" x1="297.6" y1="1724.8" x2="297.6" y2="1735.3"/>
<line class="e" x1="292" y1="1724.8" x2="303.2" y2="1724.8"/>
<rect class="wb" x="331.4" y="1776.2" width="34.3" height="364.3"/>
<rect class="bb" x="365.7" y="1747.8" width="34.9" height="392.7"/>
<line class="e" x1="348.55" y1="1768.5" x2="348.55" y2="1783.4"/>
<line class="e" x1="342.95" y1="1768.5" x2="354.15" y2="1768.5"/>
<line class="e" x1="342.95" y1="1783.4" x2="354.15" y2="1783.4"/>
<line class="e" x1="383.15" y1="1739.1" x2="383.15" y2="1748.8"/>
<line class="e" x1="377.55" y1="1739.1" x2="388.75" y2="1739.1"/>
<rect class="wb" x="416.95" y="1813.7" width="34.3" height="326.8"/>
<rect class="bb" x="451.25" y="1775.9" width="34.9" height="364.6"/>
<line class="e" x1="434.1" y1="1804.8" x2="434.1" y2="1823.5"/>
<line class="e" x1="428.5" y1="1804.8" x2="439.7" y2="1804.8"/>
<line class="e" x1="428.5" y1="1823.5" x2="439.7" y2="1823.5"/>
<line class="e" x1="468.7" y1="1765.8" x2="468.7" y2="1776.9"/>
<line class="e" x1="463.1" y1="1765.8" x2="474.3" y2="1765.8"/>
<rect class="wb" x="502.5" y="1742.9" width="34.3" height="397.6"/>
<rect class="bb" x="536.8" y="1735.3" width="34.9" height="405.2"/>
<line class="e" x1="519.65" y1="1731.6" x2="519.65" y2="1752.4"/>
<line class="e" x1="514.05" y1="1731.6" x2="525.25" y2="1731.6"/>
<line class="e" x1="514.05" y1="1752.4" x2="525.25" y2="1752.4"/>
<line class="e" x1="554.25" y1="1729.4" x2="554.25" y2="1736.3"/>
<line class="e" x1="548.65" y1="1729.4" x2="559.85" y2="1729.4"/>
<rect class="wb" x="588.05" y="1731.6" width="34.3" height="408.9"/>
<rect class="bb" x="622.35" y="1705" width="34.9" height="435.5"/>
<line class="e" x1="605.2" y1="1721.8" x2="605.2" y2="1741.2"/>
<line class="e" x1="599.6" y1="1721.8" x2="610.8" y2="1721.8"/>
<line class="e" x1="599.6" y1="1741.2" x2="610.8" y2="1741.2"/>
<line class="e" x1="639.8" y1="1698.9" x2="639.8" y2="1706"/>
<line class="e" x1="634.2" y1="1698.9" x2="645.4" y2="1698.9"/>
<rect class="wb" x="673.6" y="1737.8" width="34.3" height="402.7"/>
<rect class="bb" x="707.9" y="1718.2" width="34.9" height="422.3"/>
<line class="e" x1="690.75" y1="1726.9" x2="690.75" y2="1748.4"/>
<line class="e" x1="685.15" y1="1726.9" x2="696.35" y2="1726.9"/>
<line class="e" x1="685.15" y1="1748.4" x2="696.35" y2="1748.4"/>
<line class="e" x1="725.35" y1="1709.5" x2="725.35" y2="1719.2"/>
<line class="e" x1="719.75" y1="1709.5" x2="730.95" y2="1709.5"/>
<rect class="wb" x="759.15" y="1741.7" width="34.3" height="398.8"/>
<rect class="bb" x="793.45" y="1723.2" width="34.9" height="417.3"/>
<line class="e" x1="776.3" y1="1726.9" x2="776.3" y2="1754.9"/>
<line class="e" x1="770.7" y1="1726.9" x2="781.9" y2="1726.9"/>
<line class="e" x1="770.7" y1="1754.9" x2="781.9" y2="1754.9"/>
<line class="e" x1="810.9" y1="1712.3" x2="810.9" y2="1724.2"/>
<line class="e" x1="805.3" y1="1712.3" x2="816.5" y2="1712.3"/>
<polyline class="br" points="176.5,1733.2 176.5,1677.7 211.8,1677.7 211.8,1695.4"/>
<text x="196.4" y="1683.7" font-size="34.5" text-anchor="middle" class="st">*</text>
<polyline class="br" points="349.1,1762.6 349.1,1712.3 382.9,1712.3 382.9,1732"/>
<text x="366.3" y="1718.5" font-size="34.5" text-anchor="middle" class="st">*</text>
<polyline class="br" points="433.6,1797.5 433.6,1743.1 467.8,1743.1 467.8,1759.1"/>
<text x="452.1" y="1749" font-size="34.5" text-anchor="middle" class="st">*</text>
<polyline class="br" points="604.8,1715.7 604.8,1670.3 640.1,1670.3 640.1,1692.7"/>
<text x="622.1" y="1676.7" font-size="34.5" text-anchor="middle" class="st">*</text>
<line class="ax" x1="160.5" y1="1588.3" x2="160.5" y2="2141.6"/>
<line class="ax" x1="147.9" y1="2140.5" x2="844.8" y2="2140.5"/>
<line class="ax" x1="147.9" y1="2140.5" x2="160.5" y2="2140.5"/>
<text transform="translate(142.14 2147.13) scale(0.952 1)" font-size="25.3" text-anchor="end">0</text>
<line class="ax" x1="154.1" y1="2112.95" x2="160.5" y2="2112.95"/>
<line class="ax" x1="147.9" y1="2085.39" x2="160.5" y2="2085.39"/>
<text transform="translate(142.14 2092.12) scale(0.952 1)" font-size="25.3" text-anchor="end">1</text>
<line class="ax" x1="154.1" y1="2057.84" x2="160.5" y2="2057.84"/>
<line class="ax" x1="147.9" y1="2030.28" x2="160.5" y2="2030.28"/>
<text transform="translate(142.14 2037.11) scale(0.952 1)" font-size="25.3" text-anchor="end">2</text>
<line class="ax" x1="154.1" y1="2002.72" x2="160.5" y2="2002.72"/>
<line class="ax" x1="147.9" y1="1975.17" x2="160.5" y2="1975.17"/>
<text transform="translate(142.14 1982.1) scale(0.952 1)" font-size="25.3" text-anchor="end">3</text>
<line class="ax" x1="154.1" y1="1947.62" x2="160.5" y2="1947.62"/>
<line class="ax" x1="147.9" y1="1920.06" x2="160.5" y2="1920.06"/>
<text transform="translate(142.14 1927.09) scale(0.952 1)" font-size="25.3" text-anchor="end">4</text>
<line class="ax" x1="154.1" y1="1892.5" x2="160.5" y2="1892.5"/>
<line class="ax" x1="147.9" y1="1864.95" x2="160.5" y2="1864.95"/>
<text transform="translate(142.14 1872.08) scale(0.952 1)" font-size="25.3" text-anchor="end">5</text>
<line class="ax" x1="154.1" y1="1837.39" x2="160.5" y2="1837.39"/>
<line class="ax" x1="147.9" y1="1809.84" x2="160.5" y2="1809.84"/>
<text transform="translate(142.14 1817.07) scale(0.952 1)" font-size="25.3" text-anchor="end">6</text>
<line class="ax" x1="154.1" y1="1782.29" x2="160.5" y2="1782.29"/>
<line class="ax" x1="147.9" y1="1754.73" x2="160.5" y2="1754.73"/>
<text transform="translate(142.14 1762.06) scale(0.952 1)" font-size="25.3" text-anchor="end">7</text>
<line class="ax" x1="154.1" y1="1727.17" x2="160.5" y2="1727.17"/>
<line class="ax" x1="147.9" y1="1699.62" x2="160.5" y2="1699.62"/>
<text transform="translate(142.14 1707.05) scale(0.952 1)" font-size="25.3" text-anchor="end">8</text>
<line class="ax" x1="154.1" y1="1672.07" x2="160.5" y2="1672.07"/>
<line class="ax" x1="147.9" y1="1644.51" x2="160.5" y2="1644.51"/>
<text transform="translate(142.14 1652.04) scale(0.952 1)" font-size="25.3" text-anchor="end">9</text>
<line class="ax" x1="154.1" y1="1616.95" x2="160.5" y2="1616.95"/>
<line class="ax" x1="147.9" y1="1589.4" x2="160.5" y2="1589.4"/>
<text transform="translate(142.14 1597.03) scale(0.952 1)" font-size="25.3" text-anchor="end">10</text>
<text transform="translate(194 2170.3) scale(0.974 1)" font-size="23.5" text-anchor="middle">delta</text>
<text transform="translate(279.55 2170.3) scale(0.974 1)" font-size="23.5" text-anchor="middle">theta</text>
<text transform="translate(365.1 2170.3) scale(0.974 1)" font-size="23.5" text-anchor="middle">alpha1</text>
<text transform="translate(450.65 2170.3) scale(0.974 1)" font-size="23.5" text-anchor="middle">alpha2</text>
<text transform="translate(536.2 2170.3) scale(0.974 1)" font-size="23.5" text-anchor="middle">beta1</text>
<text transform="translate(621.75 2170.3) scale(0.974 1)" font-size="23.5" text-anchor="middle">beta2</text>
<text transform="translate(707.3 2170.3) scale(0.974 1)" font-size="23.5" text-anchor="middle">beta3</text>
<text transform="translate(792.85 2170.3) scale(0.974 1)" font-size="23.5" text-anchor="middle">gamma</text>
<text transform="translate(433.37 2213) scale(0.9543 1)" font-size="29.9">Frequency</text>
<rect class="lg" x="684.6" y="1589.1" width="157.4" height="60.4"/>
<rect class="lg" x="688.3" y="1593" width="50.9" height="23.2"/>
<rect class="bb" x="687.7" y="1619.8" width="52.1" height="27"/>
<text transform="translate(746.37 1611.8) scale(1.0021 1)" font-size="23.4">Baseline</text>
<text transform="translate(746.81 1640.4) scale(0.9841 1)" font-size="23.4">Sedation</text>
</g>
</svg>
</body>
</html>
